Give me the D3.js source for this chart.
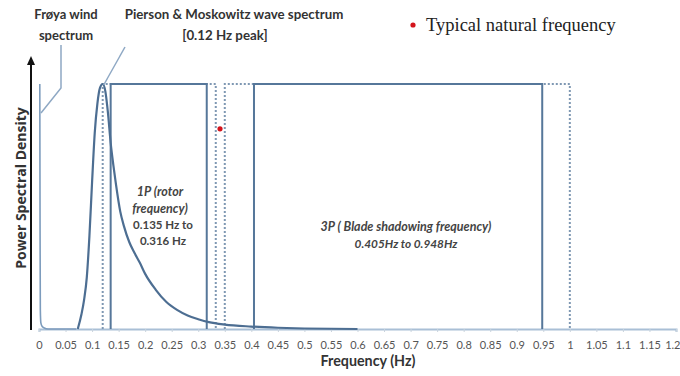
<!DOCTYPE html>
<html>
<head>
<meta charset="utf-8">
<script src="https://cdn.jsdelivr.net/npm/d3@7"></script>
<style>
  html, body { margin: 0; padding: 0; background: #fff; }
  svg { display: block; }
</style>
</head>
<body>
<svg id="chart" width="680" height="376"></svg>
<script>
// Frequency axis ticks (Hz)
const tickValues = [0, 0.05, 0.1, 0.15, 0.2, 0.25, 0.3, 0.35, 0.4, 0.45, 0.5, 0.55, 0.6,
                    0.65, 0.7, 0.75, 0.8, 0.85, 0.9, 0.95, 1, 1.05, 1.1, 1.15, 1.2];
const tickLabels = ["0", "0.05", "0.1", "0.15", "0.2", "0.25", "0.3", "0.35", "0.4", "0.45", "0.5", "0.55", "0.6",
                    "0.65", "0.7", "0.75", "0.8", "0.85", "0.9", "0.95", "1", "1.05", "1.1", "1.15", "1.2"];

// Pierson & Moskowitz wave spectrum (normalised PSD, peak at 0.12 Hz)
const pmFreq = [0.073, 0.080, 0.085, 0.090, 0.095, 0.100, 0.105, 0.110, 0.115, 0.120, 0.125, 0.130,
                0.135, 0.140, 0.145, 0.153, 0.160, 0.170, 0.180, 0.190, 0.200, 0.220, 0.240, 0.260,
                0.280, 0.300, 0.320, 0.350, 0.400, 0.450, 0.500, 0.600];
const pmPsd  = [0.000, 0.060, 0.120, 0.210, 0.380, 0.600, 0.800, 0.920, 0.985, 1.000, 0.970, 0.880,
                0.760, 0.670, 0.590, 0.480, 0.420, 0.355, 0.310, 0.270, 0.225, 0.160, 0.110, 0.078,
                0.055, 0.040, 0.028, 0.018, 0.010, 0.005, 0.002, 0.000];

// Frøya wind spectrum (normalised PSD, concentrated near 0 Hz)
const froyaFreq = [0.0015, 0.0020, 0.0025, 0.0035, 0.0060, 0.0100, 0.0170, 0.0700];
const froyaPsd  = [1.000, 0.400, 0.080, 0.025, 0.010, 0.004, 0.000, 0.000];

// Excitation bands: solid = operating range, dotted = range with margin
const bandNames   = ["1P", "3P"];
const bandLow     = [0.135, 0.405];
const bandHigh    = [0.316, 0.948];
const marginLow   = [0.120, 0.350];
const marginHigh  = [0.333, 1.000];
const bandLevel   = 1.0;

// Typical natural frequency of the structure
const naturalFreq = [0.341];
const naturalPsd  = [0.817];

const svg = d3.select("#chart");

const x = d3.scaleLinear().domain([0, 1.2]).range([39, 676]);
const y = d3.scaleLinear().domain([0, 1]).range([329, 84]);

const solidColor = "#56779a";
const dotColor = "#7f98b3";
const curveColor = "#4d6e92";
const pointerColor = "#8ea8c4";

// x axis
const xAxis = d3.axisBottom(x)
  .tickValues(tickValues)
  .tickSize(3)
  .tickPadding(9)
  .tickFormat((d, i) => tickLabels[i]);

const gx = svg.append("g")
  .attr("transform", `translate(0,${y(0)})`)
  .call(xAxis);
gx.select(".domain").attr("stroke", "#a9bfd6").attr("stroke-width", 2);
gx.selectAll(".tick line").attr("stroke", "#c9d3dd").attr("stroke-width", 1);
gx.selectAll(".tick text")
  .attr("fill", "#555")
  .style("font-family", "Lato, 'Open Sans', sans-serif")
  .style("font-size", "11px");
// keep the last label inside the frame
gx.selectAll(".tick text").filter((d, i) => i === tickValues.length - 1)
  .attr("text-anchor", "end").attr("dx", "4");

// Open-bottomed band outline
const boxPath = (lo, hi, lvl) => {
  const p = d3.path();
  p.moveTo(x(lo), y(0));
  p.lineTo(x(lo), y(lvl));
  p.lineTo(x(hi), y(lvl));
  p.lineTo(x(hi), y(0));
  return p.toString();
};

// Dotted margin boxes
svg.append("g").selectAll("path")
  .data(bandNames.map((n, i) => ({ lo: marginLow[i], hi: marginHigh[i] })))
  .join("path")
  .attr("d", d => boxPath(d.lo, d.hi, bandLevel))
  .attr("fill", "none")
  .attr("stroke", dotColor)
  .attr("stroke-width", 2)
  .attr("stroke-dasharray", "2,2");

// Solid band boxes
svg.append("g").selectAll("path")
  .data(bandNames.map((n, i) => ({ lo: bandLow[i], hi: bandHigh[i] })))
  .join("path")
  .attr("d", d => boxPath(d.lo, d.hi, bandLevel))
  .attr("fill", "none")
  .attr("stroke", solidColor)
  .attr("stroke-width", 2);

// Wave spectrum
const line = d3.line().x(d => x(d[0])).y(d => y(d[1])).curve(d3.curveMonotoneX);
svg.append("path")
  .datum(pmFreq.map((f, i) => [f, pmPsd[i]]))
  .attr("d", line)
  .attr("fill", "none")
  .attr("stroke", curveColor)
  .attr("stroke-width", 2.2);

// Wind spectrum
svg.append("path")
  .datum(froyaFreq.map((f, i) => [f, froyaPsd[i]]))
  .attr("d", line)
  .attr("fill", "none")
  .attr("stroke", "#7d9cbd")
  .attr("stroke-width", 1.6);

// Natural frequency marker
svg.append("g").selectAll("circle")
  .data(naturalFreq.map((f, i) => [f, naturalPsd[i]]))
  .join("circle")
  .attr("cx", d => x(d[0]))
  .attr("cy", d => y(d[1]))
  .attr("r", 2.6)
  .attr("fill", "#d4141c");

// y axis arrow
svg.append("line")
  .attr("x1", 31).attr("x2", 31)
  .attr("y1", y(0) + 1).attr("y2", 64)
  .attr("stroke", "#111").attr("stroke-width", 2);
svg.append("path")
  .attr("d", "M31,56 L27,65 L35,65 Z")
  .attr("fill", "#111");

// Pointer lines from the annotations
svg.append("path")
  .attr("d", "M61,45 L61,88 L41,113")
  .attr("fill", "none").attr("stroke", pointerColor).attr("stroke-width", 1.5);
svg.append("path")
  .attr("d", `M125,47 L${x(0.12) + 1},${y(1) + 1}`)
  .attr("fill", "none").attr("stroke", pointerColor).attr("stroke-width", 1.5);

const sans = "Lato, 'Open Sans', sans-serif";
const textColor = "#333";

function label(txt, cx, by, opts = {}) {
  return svg.append("text")
    .attr("x", cx).attr("y", by)
    .attr("text-anchor", opts.anchor || "middle")
    .attr("fill", opts.color || textColor)
    .style("font-family", opts.family || sans)
    .style("font-size", (opts.size || 12) + "px")
    .style("font-weight", opts.weight || "bold")
    .style("font-style", opts.style || "normal")
    .text(txt);
}

// Annotations
label("Frøya wind", 66, 19, { size: 13 });
label("spectrum", 66, 40, { size: 13 });
label("Pierson & Moskowitz wave spectrum", 234, 19, { size: 13.3 });
label("[0.12 Hz peak]", 225, 40, { size: 13.3 });

label("1P (rotor", 160, 196, { size: 12.5, style: "italic", color: "#444" });
label("frequency)", 160, 213, { size: 12.5, style: "italic", color: "#444" });
label("0.135 Hz to", 163, 229, { size: 11.5, color: "#444" });
label("0.316 Hz", 163, 245, { size: 11.5, color: "#444" });

label("3P ( Blade shadowing frequency)", 406, 231, { size: 12.5, style: "italic", color: "#444" });
label("0.405Hz to 0.948Hz", 406, 248, { size: 11.8, style: "italic", color: "#444" });

// Legend
svg.append("circle").attr("cx", 413).attr("cy", 25).attr("r", 2.6).attr("fill", "#d4141c");
label("Typical natural frequency", 426, 31,
  { anchor: "start", size: 18.5, weight: "normal", family: "'Liberation Serif', 'DejaVu Serif', serif", color: "#222" });

// Axis titles
label("Frequency (Hz)", 368, 366, { size: 14.3 });
svg.append("text")
  .attr("transform", `translate(26,${188}) rotate(-90)`)
  .attr("text-anchor", "middle")
  .attr("fill", textColor)
  .style("font-family", "'Open Sans', Lato, sans-serif")
  .style("font-size", "14px")
  .style("font-weight", "bold")
  .text("Power Spectral Density");
</script>
</body>
</html>
